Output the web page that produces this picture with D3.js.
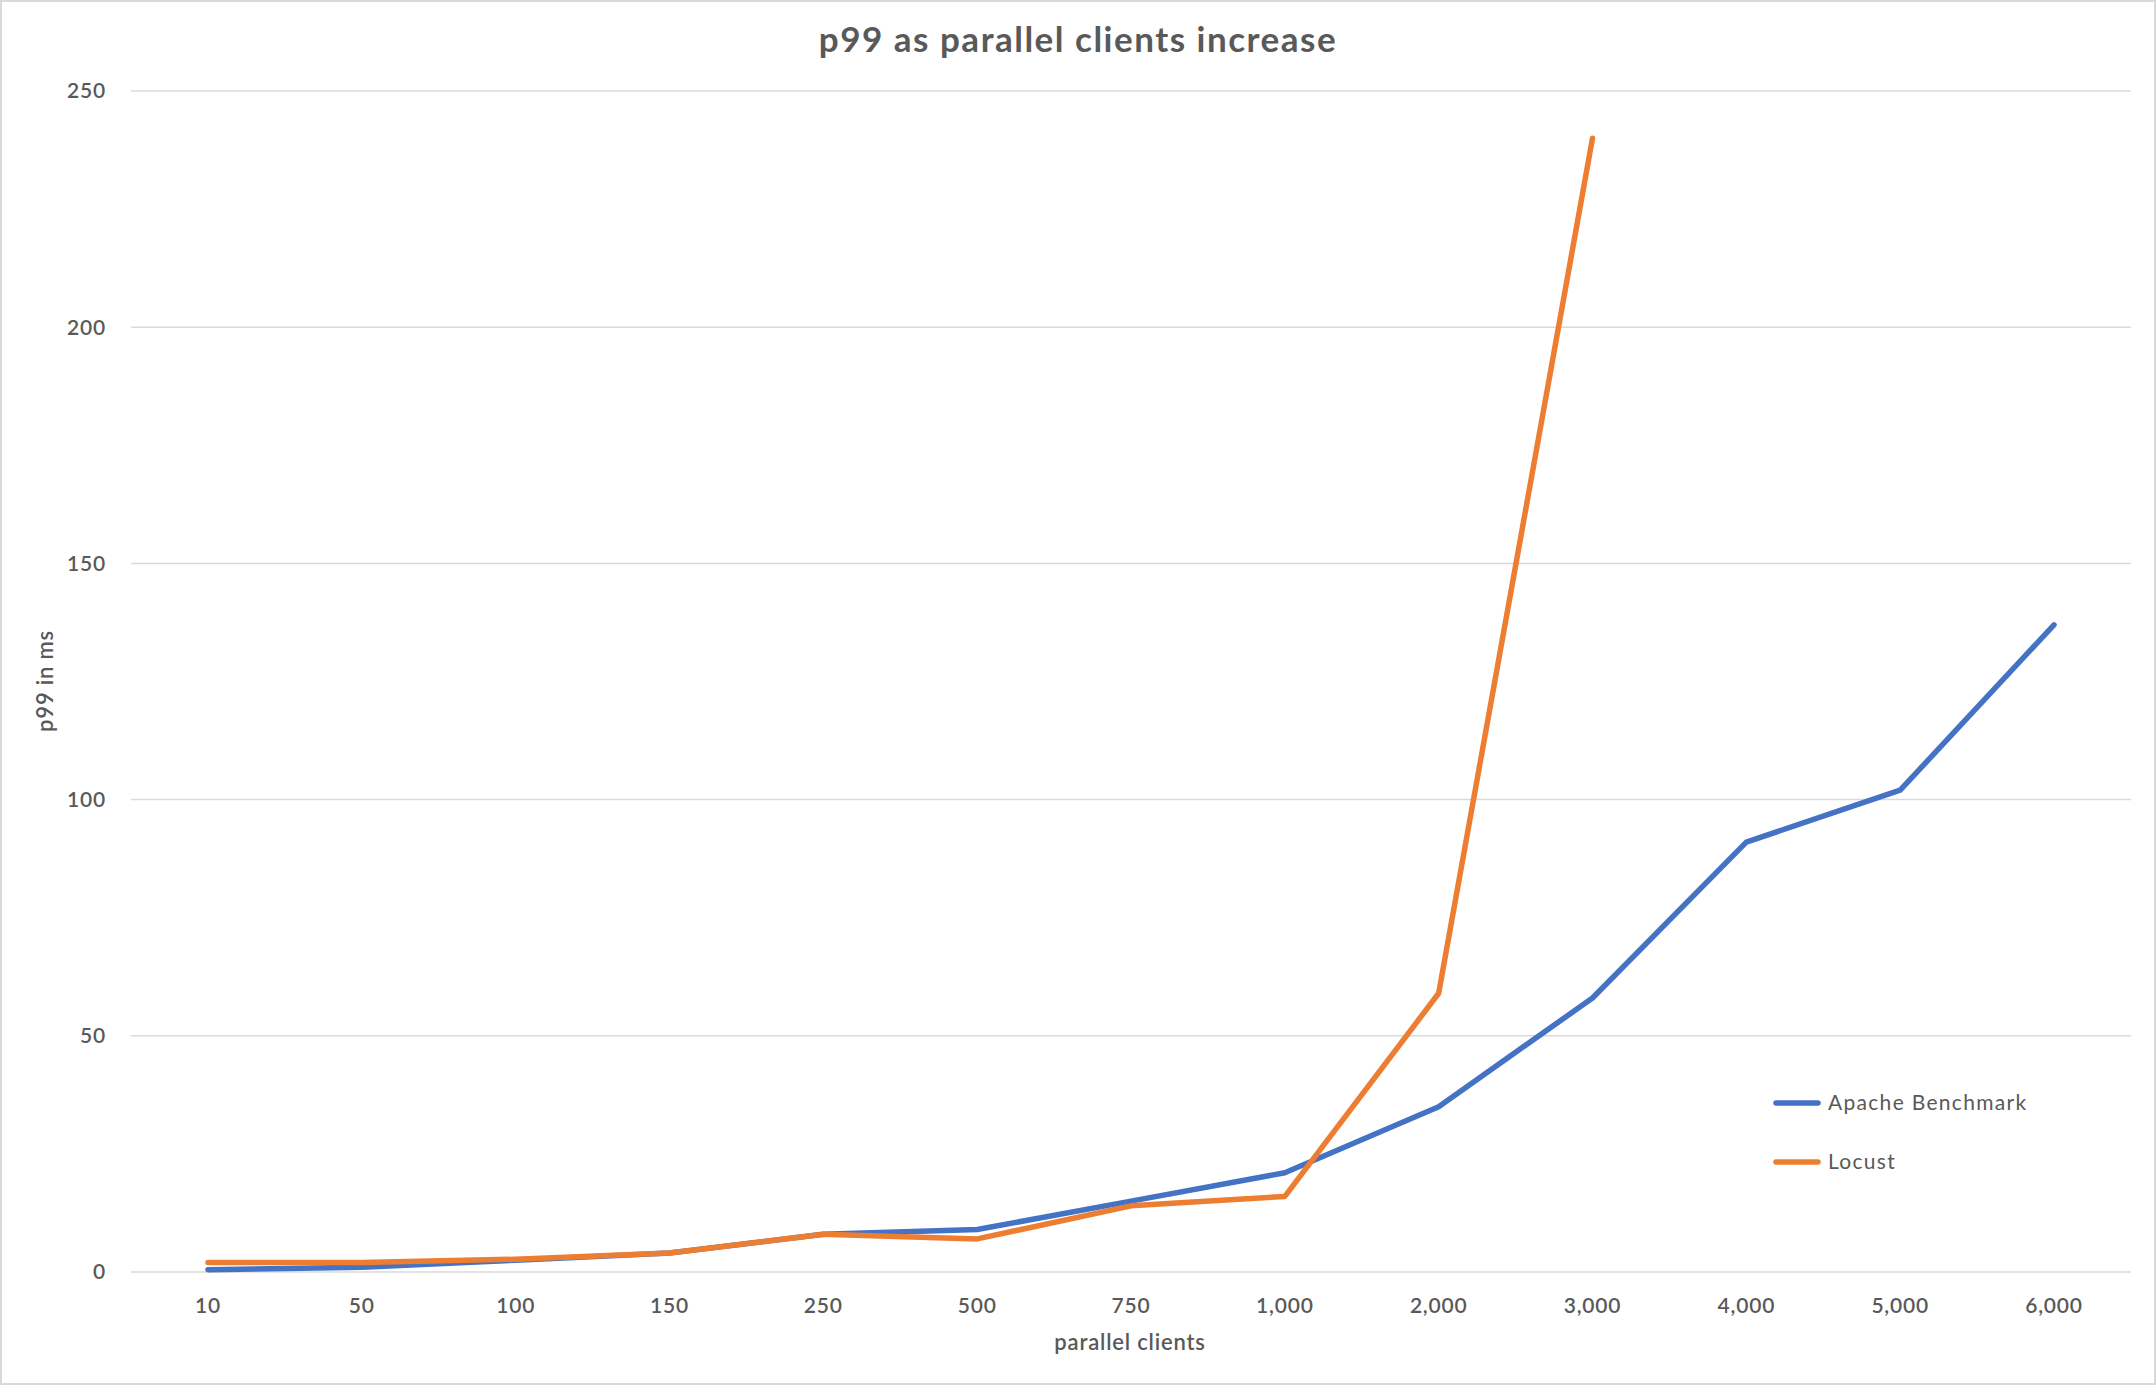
<!DOCTYPE html>
<html><head><meta charset="utf-8">
<script src="https://cdn.jsdelivr.net/npm/d3@7/dist/d3.min.js"></script>
<style>body{margin:0;background:#fff}svg{display:block}</style>
</head><body>
<script>
const categories=["10","50","100","150","250","500","750","1,000","2,000","3,000","4,000","5,000","6,000"];
const apache=[0.5,1,2.5,4,8,9,15,21,35,58,91,102,137];
const locust=[2,2,2.7,4,8,7,14,16,59,240];
const yTicks=[0,50,100,150,200,250];
const W=2156,H=1385,font="Lato, 'Open Sans', sans-serif";
const svg=d3.select("body").append("svg").attr("width",W).attr("height",H);
svg.append("rect").attr("x",1).attr("y",1).attr("width",W-2).attr("height",H-2).attr("fill","#fff").attr("stroke","#d9d9d9").attr("stroke-width",2);
const x=d3.scalePoint().domain(categories).range([208,2054]);
const y=d3.scaleLinear().domain([0,250]).range([1272,91]);
const gx0=131,gx1=2131;
svg.selectAll(".g").data(yTicks).enter().append("line").attr("x1",gx0).attr("x2",gx1)
 .attr("y1",d=>y(d)).attr("y2",d=>y(d)).attr("stroke","#d9d9d9").attr("stroke-width",1.5);
svg.selectAll(".yt").data(yTicks).enter().append("text").attr("x",106).attr("y",d=>y(d)).attr("dy","0.35em")
 .attr("text-anchor","end").attr("font-family",font).attr("font-size",21).attr("font-weight",600).attr("letter-spacing",0.8).attr("fill","#595959").text(d=>d);
svg.selectAll(".xt").data(categories).enter().append("text").attr("x",d=>x(d)).attr("y",1313)
 .attr("text-anchor","middle").attr("font-family",font).attr("font-size",21).attr("font-weight",600).attr("letter-spacing",0.8).attr("fill","#595959").text(d=>d);
svg.append("text").attr("x",1078).attr("y",52).attr("text-anchor","middle").attr("font-family",font).attr("font-size",35).attr("font-weight",700).attr("letter-spacing",1.5).attr("fill","#595959").text("p99 as parallel clients increase");
svg.append("text").attr("x",1130).attr("y",1350).attr("text-anchor","middle").attr("font-family",font).attr("font-size",22).attr("font-weight",600).attr("letter-spacing",0.8).attr("fill","#595959").text("parallel clients");
svg.append("text").attr("transform","translate(53,681) rotate(-90)").attr("text-anchor","middle").attr("font-family",font).attr("font-size",22).attr("font-weight",600).attr("letter-spacing",0.8).attr("fill","#595959").text("p99 in ms");
const line=d3.line().x((d,i)=>x(categories[i])).y(d=>y(d));
const series=[{name:"Apache Benchmark",vals:apache,c:"#4472c4"},{name:"Locust",vals:locust,c:"#ed7d31"}];
series.forEach(s=>svg.append("path").attr("d",line(s.vals)).attr("fill","none").attr("stroke",s.c).attr("stroke-width",5.5).attr("stroke-linecap","round").attr("stroke-linejoin","round"));
series.forEach((s,i)=>{const yy=1103+i*59;
 svg.append("line").attr("x1",1776).attr("x2",1818).attr("y1",yy).attr("y2",yy).attr("stroke",s.c).attr("stroke-width",5.5).attr("stroke-linecap","round");
 svg.append("text").attr("x",1828).attr("y",yy).attr("dy","0.35em").attr("font-family",font).attr("font-size",21).attr("letter-spacing",1.3).attr("fill","#595959").text(s.name);});
</script>
</body></html>
